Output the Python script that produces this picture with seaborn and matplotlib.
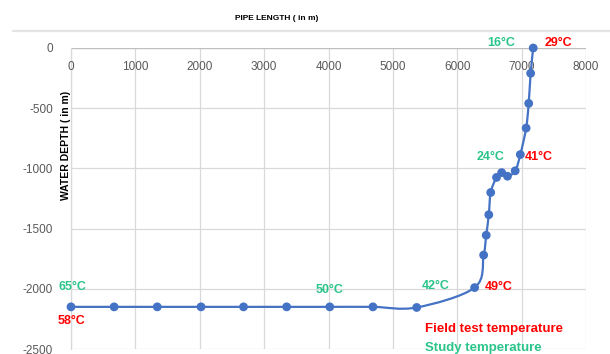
import numpy as np
import pandas as pd
import matplotlib
matplotlib.use("Agg")
import matplotlib.pyplot as plt
import seaborn as sns
from matplotlib.path import Path
from matplotlib.patches import PathPatch
from matplotlib.lines import Line2D

# ---------------- data ----------------
pipe_length = [0, 670, 1340, 2020, 2680, 3350, 4020, 4690, 5370, 6270, 6410, 6450,
               6490, 6520, 6610, 6690, 6780, 6900, 6980, 7070, 7110, 7140, 7180]
water_depth = [-2150, -2150, -2150, -2150, -2150, -2150, -2150, -2150, -2155, -1990,
               -1720, -1555, -1385, -1200, -1075, -1035, -1065, -1020, -885, -665,
               -460, -210, 0]
x_ticks = [0, 1000, 2000, 3000, 4000, 5000, 6000, 7000, 8000]
y_ticks = [0, -500, -1000, -1500, -2000, -2500]
study_labels = ["16°C", "24°C", "42°C", "50°C", "65°C"]
study_pos = [(6690, 39), (6524, -905), (5670, -1977), (4023, -2010), (15, -1985)]
field_labels = ["29°C", "41°C", "49°C", "58°C"]
field_pos = [(7565, 42), (7270, -905), (6650, -1985), (15, -2267)]

df = pd.DataFrame({"length": pipe_length, "depth": water_depth})

BLUE = "#4472C4"
GREEN = "#2BC48A"
RED = "#FF0000"
GRID = "#D9D9D9"
TICK = "#595959"

sns.set_theme(style="white")
plt.rcParams["font.family"] = ["Liberation Sans", "DejaVu Sans"]

W, H = 610, 354
fig = plt.figure(figsize=(W / 100, H / 100), dpi=100)
ax = fig.add_axes([71 / W, 1 - 349 / H, (586 - 71) / W, (349 - 48) / H])
ax.set_xlim(0, 8000)
ax.set_ylim(-2500, 0)

# grid
ax.set_xticks(x_ticks)
ax.set_yticks(y_ticks)
ax.grid(True, color=GRID, linewidth=0.9)
ax.set_axisbelow(True)
for s in ["top", "right", "bottom"]:
    ax.spines[s].set_visible(False)
ax.spines["left"].set_color(GRID)
ax.spines["left"].set_linewidth(0.9)
ax.axhline(0, color="#BFBFBF", linewidth=0.9, zorder=1)
ax.tick_params(axis="x", length=0, labelbottom=False)
ax.tick_params(axis="y", length=0, pad=13, labelsize=8.5, labelcolor=TICK)
ax.set_yticklabels([str(v) for v in y_ticks])

# x tick labels placed next to the axis at y=0 (inside plot area)
for xv in x_ticks:
    ax.text(xv, -155, str(xv), ha="center", va="center", fontsize=8.5, color=TICK)

# smoothed line (Catmull-Rom bezier, like Excel smoothing)
P = np.column_stack([df["length"].to_numpy(float), df["depth"].to_numpy(float)])
n = len(P)
verts = [P[0]]
codes = [Path.MOVETO]
for i in range(n - 1):
    p0 = P[i - 1] if i > 0 else P[i]
    p1 = P[i]
    p2 = P[i + 1]
    p3 = P[i + 2] if i + 2 < n else P[i + 1]
    c1 = p1 + (p2 - p0) / 6
    c2 = p2 - (p3 - p1) / 6
    verts += [c1, c2, p2]
    codes += [Path.CURVE4] * 3
ax.add_patch(PathPatch(Path(verts, codes), fill=False, edgecolor=BLUE, linewidth=1.6, zorder=3))

sns.scatterplot(data=df, x="length", y="depth", ax=ax, color=BLUE, s=40,
                edgecolor="none", zorder=4, clip_on=False, legend=False)
ax.set_xlabel("")
ax.set_ylabel("")

for lab, (xx, yy) in zip(study_labels, study_pos):
    ax.text(xx, yy, lab, color=GREEN, fontsize=9, fontweight="bold",
            ha="center", va="center", clip_on=False)
for lab, (xx, yy) in zip(field_labels, field_pos):
    ax.text(xx, yy, lab, color=RED, fontsize=9, fontweight="bold",
            ha="center", va="center", clip_on=False)

ax.text(5500, -2334, "Field test temperature", color=RED, fontsize=9.5,
        fontweight="bold", ha="left", va="center", clip_on=False)
ax.text(5500, -2492, "Study temperature", color=GREEN, fontsize=9.5,
        fontweight="bold", ha="left", va="center", clip_on=False)

# titles
fig.text(277 / W, 1 - 19 / H, "PIPE LENGTH ( in m)", ha="center", va="center",
         fontsize=6, fontweight="bold", color="black")
fig.text(66 / W, 1 - 145 / H, "WATER DEPTH ( in m)", ha="center", va="center",
         rotation=90, fontsize=7.5, fontweight="bold", color="black")

# chart-area separator line near the top
fig.add_artist(Line2D([13 / W, 1], [1 - 31 / H, 1 - 31 / H], color="#E3E3E3",
                      linewidth=1.6, transform=fig.transFigure))

fig.savefig("out.png", dpi=100)
